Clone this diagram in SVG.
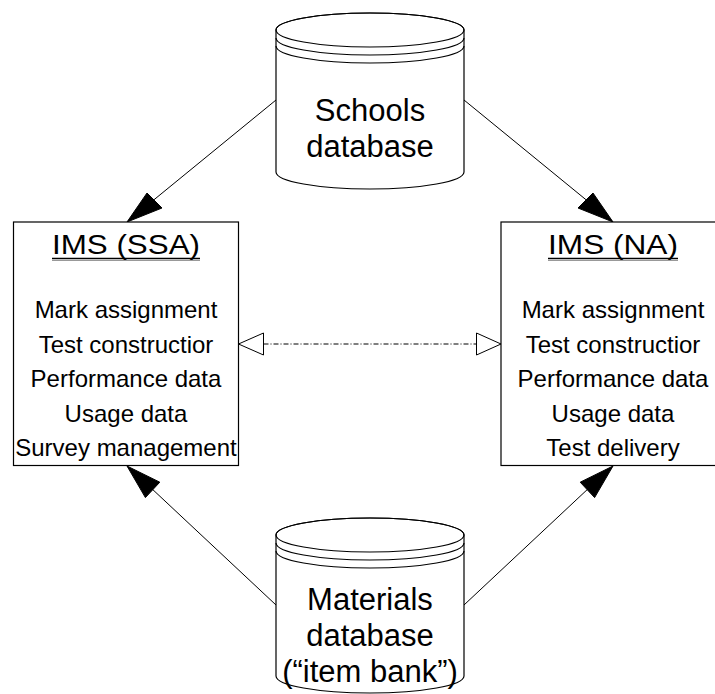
<svg xmlns="http://www.w3.org/2000/svg" width="715" height="694" viewBox="0 0 715 694">
<defs>
<style>
.bg{fill:#ffffff}
.cyl{fill:#ffffff;stroke:#000000;stroke-width:1.2}
.arc{fill:none;stroke:#000000;stroke-width:1.2}
.box{fill:#ffffff;stroke:#000000;stroke-width:1.2}
.big{font-family:"Liberation Sans",Arial,sans-serif;font-size:31px;fill:#000000;text-anchor:middle}
.title{font-family:"Liberation Sans",Arial,sans-serif;font-size:28px;fill:#000000;text-anchor:middle}
.item{font-family:"Liberation Sans",Arial,sans-serif;font-size:24px;fill:#000000;text-anchor:middle}
.ul{stroke:#000000;stroke-width:1.3}
.ul2{stroke:#999999;stroke-width:1}
.conn{fill:none;stroke:#000000;stroke-width:1}
.head{fill:#000000;stroke:#000000;stroke-width:1}
.dash{fill:none;stroke:#000000;stroke-width:1;stroke-dasharray:5 2 1 2}
.open{fill:#ffffff;stroke:#000000;stroke-width:1}
</style>
</defs>
<rect class="bg" x="0" y="0" width="715" height="694"/>

<g id="connectors">
  <line class="conn" x1="276" y1="100" x2="150" y2="203"/>
  <polygon class="head" points="127,222 147,193 162,208"/>
  <line class="conn" x1="464" y1="100" x2="590" y2="203"/>
  <polygon class="head" points="613,222 593,193 578,208"/>
  <line class="conn" x1="276" y1="605" x2="150" y2="487"/>
  <polygon class="head" points="127,466 145.4,497.6 159.8,482.2"/>
  <line class="conn" x1="464" y1="605" x2="590" y2="487"/>
  <polygon class="head" points="613,466 594.6,497.6 580.2,482.2"/>
  <line class="dash" x1="263.5" y1="344" x2="476.5" y2="344"/>
  <polygon class="open" points="238.5,344 263.5,333 263.5,355"/>
  <polygon class="open" points="501,344 476.5,333 476.5,355"/>
</g>

<g id="schools-db">
  <path class="cyl" d="M276,30 L276,172 A94,17 0 0 0 464,172 L464,30 A94,17 0 0 0 276,30 Z"/>
  <ellipse class="arc" cx="370" cy="30" rx="94" ry="17"/>
  <path class="arc" d="M276,38 A94,17 0 0 0 464,38"/>
  <path class="arc" d="M276,46 A94,17 0 0 0 464,46"/>
  <text class="big" x="370" y="121">Schools</text>
  <text class="big" x="370" y="157">database</text>
</g>

<g id="ims-ssa">
  <rect class="box" x="13.5" y="222" width="225" height="243.5"/>
  <text class="title" x="126" y="254" textLength="148" lengthAdjust="spacingAndGlyphs">IMS (SSA)</text>
  <line class="ul" x1="52" y1="258.5" x2="200" y2="258.5"/>
  <line class="ul2" x1="52" y1="260.5" x2="200" y2="260.5"/>
  <text class="item" x="126" y="318">Mark assignment</text>
  <text class="item" x="126" y="352.5">Test constructior</text>
  <text class="item" x="126" y="387">Performance data</text>
  <text class="item" x="126" y="421.5">Usage data</text>
  <text class="item" x="126" y="456">Survey management</text>
</g>

<g id="ims-na">
  <rect class="box" x="501" y="222" width="225" height="243.5"/>
  <text class="title" x="613" y="254" textLength="130" lengthAdjust="spacingAndGlyphs">IMS (NA)</text>
  <line class="ul" x1="548" y1="258.5" x2="678" y2="258.5"/>
  <line class="ul2" x1="548" y1="260.5" x2="678" y2="260.5"/>
  <text class="item" x="613" y="318">Mark assignment</text>
  <text class="item" x="613" y="352.5">Test constructior</text>
  <text class="item" x="613" y="387">Performance data</text>
  <text class="item" x="613" y="421.5">Usage data</text>
  <text class="item" x="613" y="456">Test delivery</text>
</g>

<g id="materials-db">
  <path class="cyl" d="M276,535 L276,676 A94,17 0 0 0 464,676 L464,535 A94,17 0 0 0 276,535 Z"/>
  <ellipse class="arc" cx="370" cy="535" rx="94" ry="17"/>
  <path class="arc" d="M276,543 A94,17 0 0 0 464,543"/>
  <path class="arc" d="M276,551 A94,17 0 0 0 464,551"/>
  <text class="big" x="370" y="610">Materials</text>
  <text class="big" x="370" y="646">database</text>
  <text class="big" x="370" y="682">(“item bank”)</text>
</g>
</svg>
